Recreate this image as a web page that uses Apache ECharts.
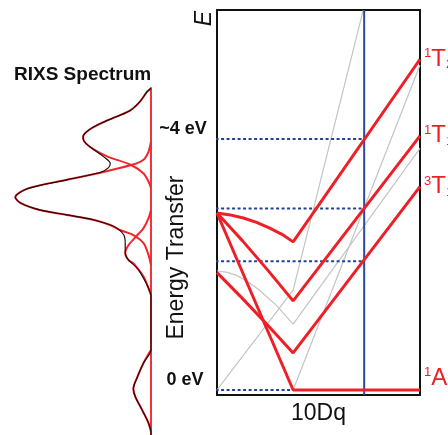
<!DOCTYPE html>
<html>
<head>
<meta charset="utf-8">
<script src="https://cdn.jsdelivr.net/npm/echarts@6/dist/echarts.min.js"></script>
<style>
  html, body { margin: 0; padding: 0; background: #fff; }
  #chart { width: 448px; height: 435px; }
</style>
</head>
<body>
<div id="chart"></div>
<script>
// ---- Tanabe–Sugano style levels: [10Dq (arb. units), energy (eV)] ----
const levelT2 = [[0, 2.82], [0.13, 2.79], [0.26, 2.74], [0.39, 2.67], [0.52, 2.58], [0.64, 2.48], [0.75, 2.36], [2.0, 5.27]];
const levelT1 = [[0, 2.82], [0.25, 2.38], [0.5, 1.91], [0.75, 1.42], [2.0, 4.05]];
const level3T1 = [[0, 1.87], [0.25, 1.46], [0.5, 1.03], [0.75, 0.59], [2.0, 3.24]];
const levelA1 = [[0, 2.82], [0.75, 0], [2.0, 0]];

// faint levels of the other branch
const greyLevelA = [[0, 0], [0.75, 1.59], [1.44, 6.05]];
const greyLevelB = [[0, 1.90], [0.1, 1.875], [0.19, 1.83], [0.3, 1.73], [0.42, 1.59], [0.59, 1.34], [0.75, 1.05], [2.0, 3.85]];
const greyLevelC = [[0.75, 0], [2.0, 5.18]];

// 10Dq of the compound and the transition energies it gives (eV)
const crystalField = 1.45;
const transitionEnergies = [4.0, 2.89, 2.05, 0];
const transitionStart = -0.61;

// ---- RIXS spectrum: [energy transfer (eV), intensity (arb. units)] ----
const bandA = [[4.81, 0], [4.75, 0.03], [4.60, 0.08], [4.46, 0.15], [4.36, 0.25], [4.25, 0.37], [4.14, 0.46], [4.04, 0.50], [4.01, 0.50], [3.93, 0.48], [3.83, 0.42], [3.72, 0.32], [3.59, 0.15], [3.45, 0.055], [3.32, 0.018], [3.22, 0]];
const bandB = [[3.96, 0], [3.80, 0.018], [3.67, 0.055], [3.59, 0.14], [3.45, 0.40], [3.35, 0.62], [3.21, 0.91], [3.07, 1.0], [2.98, 0.96], [2.87, 0.82], [2.79, 0.62], [2.71, 0.42], [2.63, 0.30], [2.55, 0.23], [2.47, 0.13], [2.34, 0.055], [2.15, 0.018], [1.99, 0]];
const bandC = [[2.87, 0], [2.74, 0.018], [2.58, 0.055], [2.47, 0.10], [2.31, 0.165], [2.18, 0.19], [2.07, 0.165], [2.02, 0.13], [1.94, 0.10], [1.81, 0.055], [1.62, 0.018], [1.51, 0]];
const elasticLine = [[0.64, 0], [0.43, 0.055], [0.21, 0.10], [0.02, 0.13], [-0.11, 0.115], [-0.32, 0.065], [-0.53, 0.018], [-0.67, 0]];
const spectrumTotal = [[4.81, 0], [4.75, 0.03], [4.60, 0.08], [4.46, 0.15], [4.36, 0.25], [4.25, 0.37], [4.14, 0.46], [4.04, 0.50], [4.01, 0.50], [3.93, 0.48], [3.83, 0.42], [3.72, 0.35], [3.61, 0.30], [3.54, 0.315], [3.47, 0.37], [3.35, 0.62], [3.21, 0.91], [3.07, 1.0], [2.98, 0.96], [2.87, 0.82], [2.79, 0.62], [2.71, 0.42], [2.63, 0.30], [2.58, 0.25], [2.47, 0.20], [2.34, 0.19], [2.20, 0.19], [2.07, 0.165], [1.94, 0.10], [1.78, 0.055], [1.62, 0.018], [1.51, 0], [0.64, 0], [0.43, 0.055], [0.21, 0.10], [0.02, 0.13], [-0.11, 0.115], [-0.32, 0.065], [-0.53, 0.018], [-0.67, 0], [-0.72, 0]];

// ---- text ----
const spectrumTitle = 'RIXS Spectrum';
const energyAxisName = 'Energy Transfer';
const tickLabels = ['~4 eV', '0 eV'];
const fieldAxisName = '10Dq';
const energySymbol = 'E';

const FONT = '"Liberation Sans", Arial, sans-serif';
const RED = '#ee1f26';
const GREY = '#c4c4c4';
const NAVY = '#20409a';

const termRich = {
  s: { fontSize: 13, verticalAlign: 'top', color: RED, fontFamily: FONT, lineHeight: 24 },
  t: { fontSize: 24, color: RED, fontFamily: FONT, lineHeight: 24 },
  b: { fontSize: 13, verticalAlign: 'bottom', color: RED, fontFamily: FONT, lineHeight: 24 }
};

function levelSeries(name, data, term, vAlign) {
  return {
    name, type: 'line', data, xAxisIndex: 0, yAxisIndex: 0,
    symbol: 'none', silent: true,
    lineStyle: { color: RED, width: 3 },
    endLabel: {
      show: true, distance: 4, align: 'left', verticalAlign: vAlign || 'middle',
      formatter: '{s|' + term[0] + '}{t|' + term[1] + '}{b|' + term[2] + '}',
      rich: termRich
    }
  };
}

function greySeries(data) {
  return {
    type: 'line', data, xAxisIndex: 0, yAxisIndex: 0, symbol: 'none', silent: true,
    lineStyle: { color: GREY, width: 1.2 }
  };
}

const flip = arr => arr.map(([e, i]) => [i, e]);

function bandSeries(data, color, width) {
  return {
    type: 'line', data: flip(data), xAxisIndex: 1, yAxisIndex: 1,
    symbol: 'none', silent: true, smooth: 0.3, clip: false,
    lineStyle: { color, width }
  };
}

const series = [
  greySeries(greyLevelA),
  greySeries(greyLevelB),
  greySeries(greyLevelC),
  {
    type: 'line', xAxisIndex: 0, yAxisIndex: 0, symbol: 'none', silent: true,
    data: [[crystalField, -0.08], [crystalField, 6.055]],
    lineStyle: { color: '#2c4a9c', width: 2 }
  }
];
transitionEnergies.forEach(e => {
  series.push({
    type: 'line', xAxisIndex: 0, yAxisIndex: 0, symbol: 'none', silent: true, clip: false,
    data: [[transitionStart, e], [crystalField, e]],
    lineStyle: { color: NAVY, width: 2, type: [3, 2.5] }
  });
});
series.push(
  levelSeries('1T2', levelT2, ['1', 'T', '2']),
  levelSeries('1T1', levelT1, ['1', 'T', '1']),
  levelSeries('3T1', level3T1, ['3', 'T', '1']),
  levelSeries('1A1', levelA1, ['1', 'A', '1'], 'bottom'),
  bandSeries(bandA, '#f0262c', 2),
  bandSeries(bandB, '#f0262c', 2),
  bandSeries(bandC, '#f0262c', 2),
  bandSeries(elasticLine, '#f0262c', 2),
  bandSeries(spectrumTotal, '#2a0606', 1.2)
);

const hiddenAxis = {
  axisLine: { show: false }, axisTick: { show: false },
  axisLabel: { show: false }, splitLine: { show: false }
};

const option = {
  animation: false,
  textStyle: { fontFamily: FONT },
  grid: [
    { left: 217, top: 10, width: 203, height: 385, show: true, borderColor: '#111', borderWidth: 2, backgroundColor: 'transparent' },
    { left: 0, top: 88, width: 151, height: 347 }
  ],
  xAxis: [
    Object.assign({ type: 'value', gridIndex: 0, min: 0, max: 2,
      name: fieldAxisName, nameLocation: 'middle', nameGap: 7,
      nameTextStyle: { fontSize: 23, color: '#111', fontFamily: FONT, verticalAlign: 'top' } }, hiddenAxis),
    Object.assign({ type: 'value', gridIndex: 1, min: 0, max: 1.1127, inverse: true }, hiddenAxis)
  ],
  yAxis: [
    Object.assign({ type: 'value', gridIndex: 0, min: -0.08, max: 6.055 }, hiddenAxis),
    Object.assign({ type: 'value', gridIndex: 1, min: -0.717, max: 4.813 }, hiddenAxis, {
      axisLine: { show: true, onZero: true, lineStyle: { color: '#f2343a', width: 2 } }
    })
  ],
  graphic: [
    { type: 'text', x: 14, y: 75, silent: true,
      style: { text: spectrumTitle, font: 'bold 19px ' + FONT, fill: '#111', textAlign: 'left', textVerticalAlign: 'middle', align: 'left', verticalAlign: 'middle' } },
    { type: 'text', x: 183, y: 129, silent: true,
      style: { text: tickLabels[0], font: 'bold 18px ' + FONT, fill: '#111', textAlign: 'center', textVerticalAlign: 'middle', align: 'center', verticalAlign: 'middle' } },
    { type: 'text', x: 185, y: 380, silent: true,
      style: { text: tickLabels[1], font: 'bold 18px ' + FONT, fill: '#111', textAlign: 'center', textVerticalAlign: 'middle', align: 'center', verticalAlign: 'middle' } },
    { type: 'text', x: 177, y: 257.5, rotation: Math.PI / 2, silent: true,
      style: { text: energyAxisName, font: '23px ' + FONT, fill: '#111', textAlign: 'center', textVerticalAlign: 'middle', align: 'center', verticalAlign: 'middle' } },
    { type: 'text', x: 205, y: 18.5, rotation: Math.PI / 2, silent: true,
      style: { text: energySymbol, font: 'italic 23px ' + FONT, fill: '#111', textAlign: 'center', textVerticalAlign: 'middle', align: 'center', verticalAlign: 'middle' } }
  ],
  series
};

const chart = echarts.init(document.getElementById('chart'), null, { renderer: 'canvas' });
chart.setOption(option);
</script>
</body>
</html>
